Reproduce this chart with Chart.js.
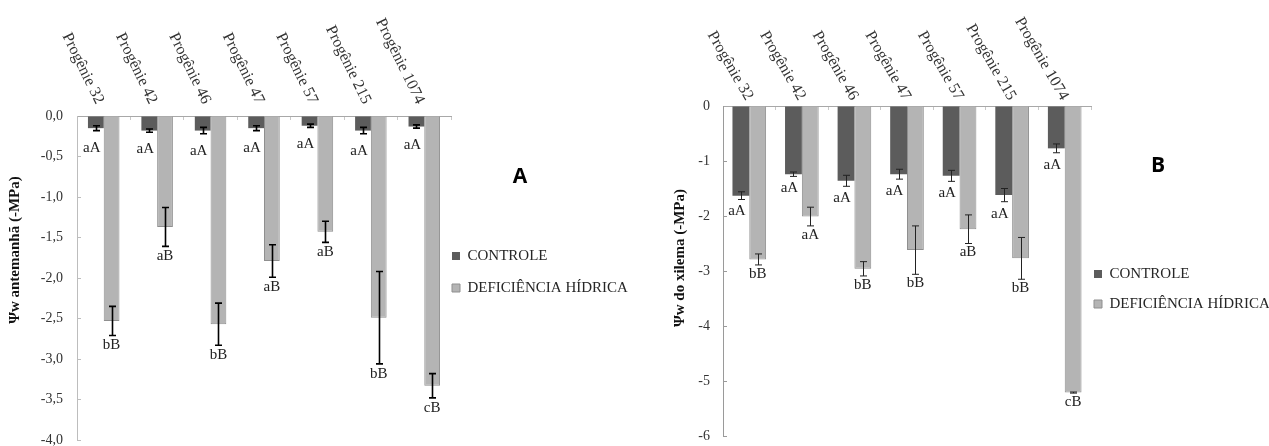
<!DOCTYPE html>
<html>
<head>
<meta charset="utf-8">
<script src="https://cdn.jsdelivr.net/npm/chart.js@4.4.1/dist/chart.umd.min.js"></script>
<style>
  html, body { margin: 0; padding: 0; background: #fff; overflow: hidden; width: 1269px; height: 446px; }
  .panel { position: absolute; top: 0; }
  #wrapA { left: 0; }
  #wrapB { left: 640px; }
  .letra { position: absolute; font-family: 'Open Sans', 'Liberation Sans', sans-serif; font-weight: bold; font-size: 21px; color: #000; transform: translate(-50%, -50%); }
</style>
</head>
<body>
<div class="panel" id="wrapA"><canvas id="chartA" width="700" height="446"></canvas></div>
<div class="panel" id="wrapB"><canvas id="chartB" width="700" height="446"></canvas></div>
<div class="letra" style="left:520px; top:175px;">A</div>
<div class="letra" style="left:1158px; top:164px;">B</div>
<script>
const progenies = ['Progênie 32', 'Progênie 42', 'Progênie 46', 'Progênie 47', 'Progênie 57', 'Progênie 215', 'Progênie 1074'];

// painel A - potencial antemanhã
const controleA = [-0.15, -0.18, -0.18, -0.15, -0.12, -0.18, -0.13];
const controleAErro = [0.03, 0.02, 0.04, 0.03, 0.02, 0.04, 0.02];
const controleALetras = ['aA', 'aA', 'aA', 'aA', 'aA', 'aA', 'aA'];
const deficienciaA = [-2.53, -1.37, -2.57, -1.79, -1.43, -2.49, -3.33];
const deficienciaAErro = [0.18, 0.24, 0.26, 0.20, 0.13, 0.57, 0.15];
const deficienciaALetras = ['bB', 'aB', 'bB', 'aB', 'aB', 'bB', 'cB'];

// painel B - potencial do xilema
const controleB = [-1.63, -1.24, -1.36, -1.24, -1.27, -1.62, -0.77];
const controleBErro = [0.07, 0.04, 0.10, 0.09, 0.10, 0.12, 0.08];
const controleBLetras = ['aA', 'aA', 'aA', 'aA', 'aA', 'aA', 'aA'];
const deficienciaB = [-2.79, -2.01, -2.96, -2.62, -2.24, -2.77, -5.21];
const deficienciaBErro = [0.10, 0.17, 0.13, 0.44, 0.26, 0.38, 0.01];
const deficienciaBLetras = ['bB', 'aA', 'bB', 'bB', 'aB', 'bB', 'cB'];

const serif = "'Liberation Serif', 'Times New Roman', serif";
Chart.defaults.font.family = serif;
Chart.defaults.color = '#333';

const escuro = '#5c5c5c';
const claro = '#b4b4b4';
const claroBorda = '#8f8f8f';

// barras de erro, letras, rótulos inclinados e título do eixo y
const extras = {
  id: 'extras',
  afterDatasetsDraw(chart, args, opts) {
    const ctx = chart.ctx;
    const y = chart.scales.y;
    const x = chart.scales.x;
    const area = chart.chartArea;
    ctx.save();
    chart.data.datasets.forEach((ds, di) => {
      const meta = chart.getDatasetMeta(di);
      meta.data.forEach((bar, i) => {
        const v = ds.data[i];
        const e = ds.erros[i];
        const yTop = y.getPixelForValue(v + e);
        const yBot = y.getPixelForValue(v - e);
        const bx = Math.round(bar.x) + 0.5;
        ctx.strokeStyle = opts.corErro;
        ctx.lineWidth = opts.larguraErro;
        ctx.beginPath();
        ctx.moveTo(bx, yTop); ctx.lineTo(bx, yBot);
        ctx.moveTo(bx - 3.5, yTop); ctx.lineTo(bx + 3.5, yTop);
        ctx.moveTo(bx - 3.5, yBot); ctx.lineTo(bx + 3.5, yBot);
        ctx.stroke();
        ctx.fillStyle = '#222';
        ctx.font = '15px ' + serif;
        ctx.textAlign = 'center';
        ctx.textBaseline = 'middle';
        ctx.fillText(ds.letras[i], bar.x + (di === 0 ? -4 : 0), yBot + opts.folgaLetra[di]);
      });
    });

    // rótulos das progênies acima do eixo
    ctx.font = '16px ' + serif;
    ctx.fillStyle = '#333';
    ctx.textAlign = 'right';
    ctx.textBaseline = 'middle';
    chart.data.labels.forEach((lab, i) => {
      ctx.save();
      ctx.translate(x.getPixelForValue(i) + opts.rotDx, area.top - opts.rotDy);
      ctx.rotate(opts.angulo * Math.PI / 180);
      ctx.fillText(lab, 0, 0);
      ctx.restore();
    });

    // título do eixo y
    ctx.save();
    ctx.translate(opts.tituloX, opts.tituloY);
    ctx.rotate(-Math.PI / 2);
    ctx.font = 'bold 15px ' + serif;
    ctx.fillStyle = '#111';
    ctx.textAlign = 'center';
    ctx.textBaseline = 'middle';
    ctx.fillText(opts.titulo, 0, 0);
    ctx.restore();

    ctx.restore();
  }
};

// aproxima a legenda do gráfico
const legendaAjuste = {
  id: 'legendaAjuste',
  afterLayout(chart, args, opts) {
    const lg = chart.legend;
    if (!lg) return;
    lg.left += opts.dx; lg.right += opts.dx;
    lg.top += opts.dy; lg.bottom += opts.dy;
  }
};

function montaGrafico(id, cfg) {
  const chart = new Chart(document.getElementById(id), {
    type: 'bar',
    data: {
      labels: progenies,
      datasets: [
        {
          label: 'CONTROLE',
          data: cfg.controle,
          erros: cfg.controleErro,
          letras: cfg.controleLetras,
          backgroundColor: escuro,
          borderColor: escuro,
          borderWidth: 0,
          categoryPercentage: cfg.catPct,
          barPercentage: 1
        },
        {
          label: 'DEFICIÊNCIA HÍDRICA',
          data: cfg.deficiencia,
          erros: cfg.deficienciaErro,
          letras: cfg.deficienciaLetras,
          backgroundColor: claro,
          borderColor: claroBorda,
          borderWidth: 1,
          categoryPercentage: cfg.catPct,
          barPercentage: 1
        }
      ]
    },
    options: {
      responsive: false,
      animation: false,
      devicePixelRatio: 1,
      layout: { padding: { left: 0, top: 0, right: 0, bottom: 0 } },
      scales: {
        x: {
          position: 'top',
          offset: true,
          grid: { offset: true, drawOnChartArea: false, tickLength: -4, color: '#c8c8c8' },
          border: { color: '#a8a8a8' },
          ticks: { display: false },
          afterFit: s => { s.height = cfg.top; }
        },
        y: {
          min: cfg.yMin,
          max: 0,
          ticks: {
            stepSize: cfg.passo,
            padding: cfg.tickPad,
            color: '#333',
            font: { size: 14 },
            callback: v => cfg.formato(v)
          },
          grid: { drawOnChartArea: false, tickLength: -4, color: cfg.corEixo },
          border: { color: cfg.corEixo },
          afterFit: s => { s.width = cfg.left; s.paddingTop = 0; s.paddingBottom = 0; }
        }
      },
      plugins: {
        tooltip: { enabled: false },
        legend: {
          position: 'right',
          fullSize: false,
          maxWidth: 320,
          labels: { boxWidth: 8, boxHeight: 8, padding: cfg.legPad, color: '#262626', font: { size: 15 } }
        },
        legendaAjuste: { dx: cfg.legDx, dy: cfg.legDy },
        extras: {
          corErro: cfg.corErro,
          larguraErro: cfg.larguraErro,
          folgaLetra: cfg.folgaLetra,
          angulo: cfg.angulo,
          rotDx: cfg.rotDx,
          rotDy: cfg.rotDy,
          titulo: cfg.titulo,
          tituloX: cfg.tituloX,
          tituloY: cfg.tituloY
        }
      }
    },
    plugins: [extras, legendaAjuste]
  });
  // encaixa as bordas direita e inferior da área de plotagem
  const pad = chart.options.layout.padding;
  const area = chart.chartArea;
  pad.right = Math.max(0, area.right - cfg.right);
  pad.bottom = Math.max(0, pad.bottom + (area.bottom - cfg.bottom));
  chart.update();
  return chart;
}

montaGrafico('chartA', {
  controle: controleA, controleErro: controleAErro, controleLetras: controleALetras,
  deficiencia: deficienciaA, deficienciaErro: deficienciaAErro, deficienciaLetras: deficienciaALetras,
  catPct: 0.59, yMin: -4, passo: 0.5, formato: v => v.toFixed(1).replace('.', ','),
  left: 77, top: 116, right: 451, bottom: 440, tickPad: 18, corEixo: '#bdbdbd',
  legPad: 17, legDx: -16, legDy: -6,
  corErro: '#000', larguraErro: 1.6, folgaLetra: [17, 10],
  angulo: 64, rotDx: -4, rotDy: 13,
  titulo: 'Ψw antemanhã (-MPa)', tituloX: 15, tituloY: 250
});

montaGrafico('chartB', {
  controle: controleB, controleErro: controleBErro, controleLetras: controleBLetras,
  deficiencia: deficienciaB, deficienciaErro: deficienciaBErro, deficienciaLetras: deficienciaBLetras,
  catPct: 0.64, yMin: -6, passo: 1, formato: v => String(v),
  left: 83, top: 106, right: 451, bottom: 436, tickPad: 17, corEixo: '#9a9a9a',
  legPad: 15, legDx: -12, legDy: 18,
  corErro: '#222', larguraErro: 1, folgaLetra: [12, 9],
  angulo: 60, rotDx: 0, rotDy: 7,
  titulo: 'Ψw do xilema (-MPa)', tituloX: 40, tituloY: 258
});
</script>
</body>
</html>
